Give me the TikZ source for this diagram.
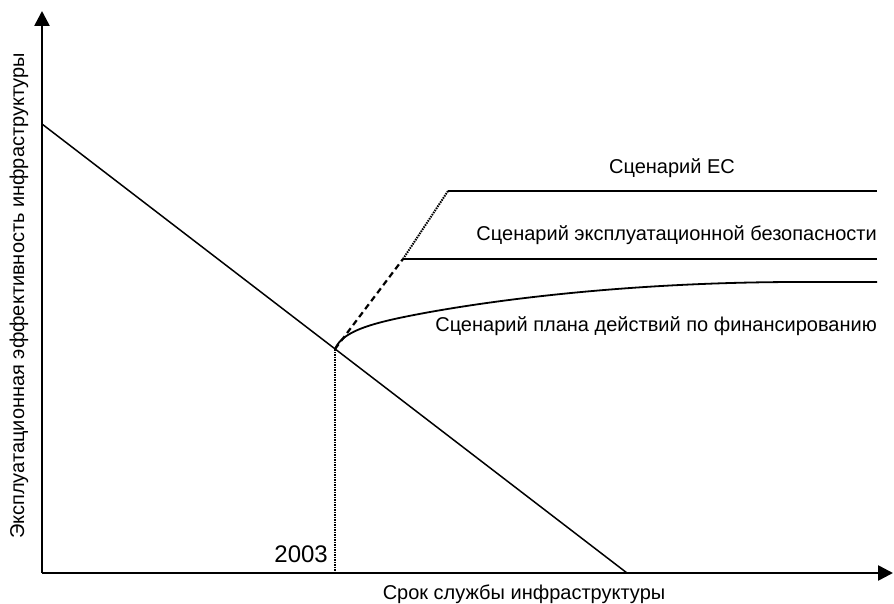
\documentclass[tikz,border=0pt]{standalone}
\usepackage{fontspec}
\setmainfont{Liberation Sans}
\usetikzlibrary{arrows.meta, positioning}

\begin{document}
\begin{tikzpicture}[
    x=1pt, y=-1pt,
    axis/.style={line width=2.6pt, -{Triangle[length=15pt, width=15pt]}},
    curve/.style={line width=1.5pt},
    label/.style={font=\fontsize{20}{22}\selectfont, inner sep=0pt},
]
    \useasboundingbox (0,0) rectangle (894,604);

    % axes
    \coordinate (origin) at (42,573);
    \coordinate (ytop) at (42,11);
    \coordinate (xend) at (893,573);
    \draw[axis] (origin) -- (ytop);
    \draw[axis] (origin) -- (xend);

    \node[label, rotate=90] (ylabel) at (19,296) {Эксплуатационная эффективность инфраструктуры};
    \node[label] (xlabel) at (524,594) {Срок службы инфраструктуры};

    % decline line
    \coordinate (start) at (42,124);
    \coordinate (p2003) at (335,349);
    \coordinate (zero) at (627,573);
    \draw[curve] (start) -- (zero);

    \coordinate (base) at (335,573);
    \draw[curve, densely dotted] (p2003) -- (base);
    \node[label, anchor=base east, font=\fontsize{24}{26}\selectfont] (year) at (328,562) {2003};

    % scenarios
    \coordinate (safe) at (403,259);
    \coordinate (ec) at (448,191);
    \draw[curve, line width=2.2pt, dash pattern=on 6pt off 4pt] (p2003) -- (safe);
    \draw[curve, densely dotted, line width=2pt] (safe) -- (ec);
    \draw[curve, line width=1.8pt] (ec) -- (877,191);
    \draw[curve] (safe) -- (877,259);
    \draw[curve, line width=1.8pt] (p2003) .. controls (343,330) and (375,322) .. (430,312)
        .. controls (520,296) and (650,282) .. (800,282) -- (877,282);

    \node[label] (ecl) at (672,168) {Сценарий ЕС};
    \node[label, anchor=east] (safel) at (877,235) {Сценарий эксплуатационной безопасности};
    \node[label, anchor=east] (finl) at (877,326) {Сценарий плана действий по финансированию};
\end{tikzpicture}
\end{document}
